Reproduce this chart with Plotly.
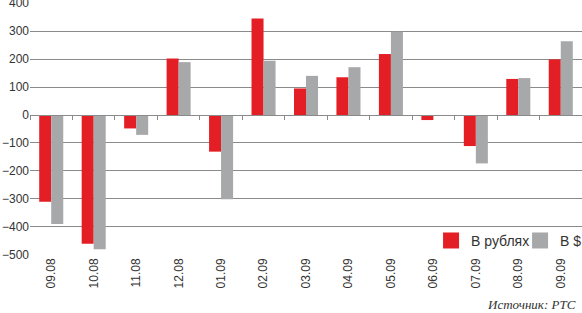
import plotly.graph_objects as go

categories = ["09.08", "10.08", "11.08", "12.08", "01.09", "02.09", "03.09",
              "04.09", "05.09", "06.09", "07.09", "08.09", "09.09"]
rub_values = [-310, -460, -48, 202, -131, 345, 95, 135, 218, -18, -111, 129, 199]
usd_values = [-390, -480, -71, 189, -301, 194, 140, 171, 298, -2, -173, 132, 264]
series_names = ["В рублях", "В $"]
y_ticks = [-500, -400, -300, -200, -100, 0, 100, 200, 300, 400]

RED = "#e31e25"
GREY = "#a7a8aa"
GRID = "#8a8a8a"
colors = [RED, GREY]

fig = go.Figure()
for name, vals, col in zip(series_names, [rub_values, usd_values], colors):
    fig.add_trace(go.Bar(x=categories, y=vals, name=name, showlegend=False,
                         marker=dict(color=col, line=dict(width=0))))
# legend entries with larger square swatches
for name, col in zip(series_names, colors):
    fig.add_trace(go.Scatter(x=[None], y=[None], name=name, mode="markers",
                             marker=dict(symbol="square", size=17, color=col),
                             showlegend=True, hoverinfo="skip"))

n = len(categories)
fig.update_layout(
    width=582, height=313,
    margin=dict(l=30, r=0, t=3, b=58, autoexpand=False),
    paper_bgcolor="white", plot_bgcolor="white",
    barmode="group", bargap=0.434, bargroupgap=0,
    font=dict(family="Arial, Liberation Sans, sans-serif", size=12, color="#333333"),
    showlegend=True,
    legend=dict(orientation="h", x=1.049, xanchor="right", y=0.056, yanchor="middle",
                bgcolor="rgba(0,0,0,0)", font=dict(size=14, color="#333333"),
                traceorder="normal", itemwidth=30, entrywidth=44,
                entrywidthmode="pixels"),
    xaxis=dict(type="category", categoryorder="array", categoryarray=categories,
               tickangle=-90, showgrid=False, showline=False, ticks="",
               tickfont=dict(size=12, color="#333333"), range=[-0.5, n - 0.5]),
    xaxis2=dict(overlaying="x", anchor="free", position=500.5 / 901,
                range=[-0.5, n - 0.5], tick0=-0.5, dtick=1, ticks="outside",
                ticklen=4, tickcolor=GRID, showticklabels=False, showgrid=False,
                showline=True, linecolor=GRID, linewidth=1, zeroline=False),
    yaxis=dict(range=[-500.5, 400.5], tickvals=y_ticks, showgrid=True, gridcolor=GRID,
               gridwidth=1, zeroline=False, showline=False, ticks="",
               ticklabeloverflow="allow",
               tickfont=dict(size=12, color="#333333")),
)

# invisible trace to activate xaxis2
fig.add_trace(go.Scatter(x=[0], y=[0], xaxis="x2", mode="markers",
                         marker=dict(opacity=0), showlegend=False, hoverinfo="skip"))

fig.add_annotation(text="<i>Источник: РТС</i>", xref="paper", yref="paper",
                   x=0.993, y=-0.16, xanchor="right", yanchor="top", showarrow=False,
                   font=dict(family="Liberation Serif, Times New Roman, serif",
                             size=13, color="#333333"))

fig.write_html("out.html", config={"displayModeBar": False},
               post_script="document.body.style.margin='0';document.body.style.overflow='hidden';")
